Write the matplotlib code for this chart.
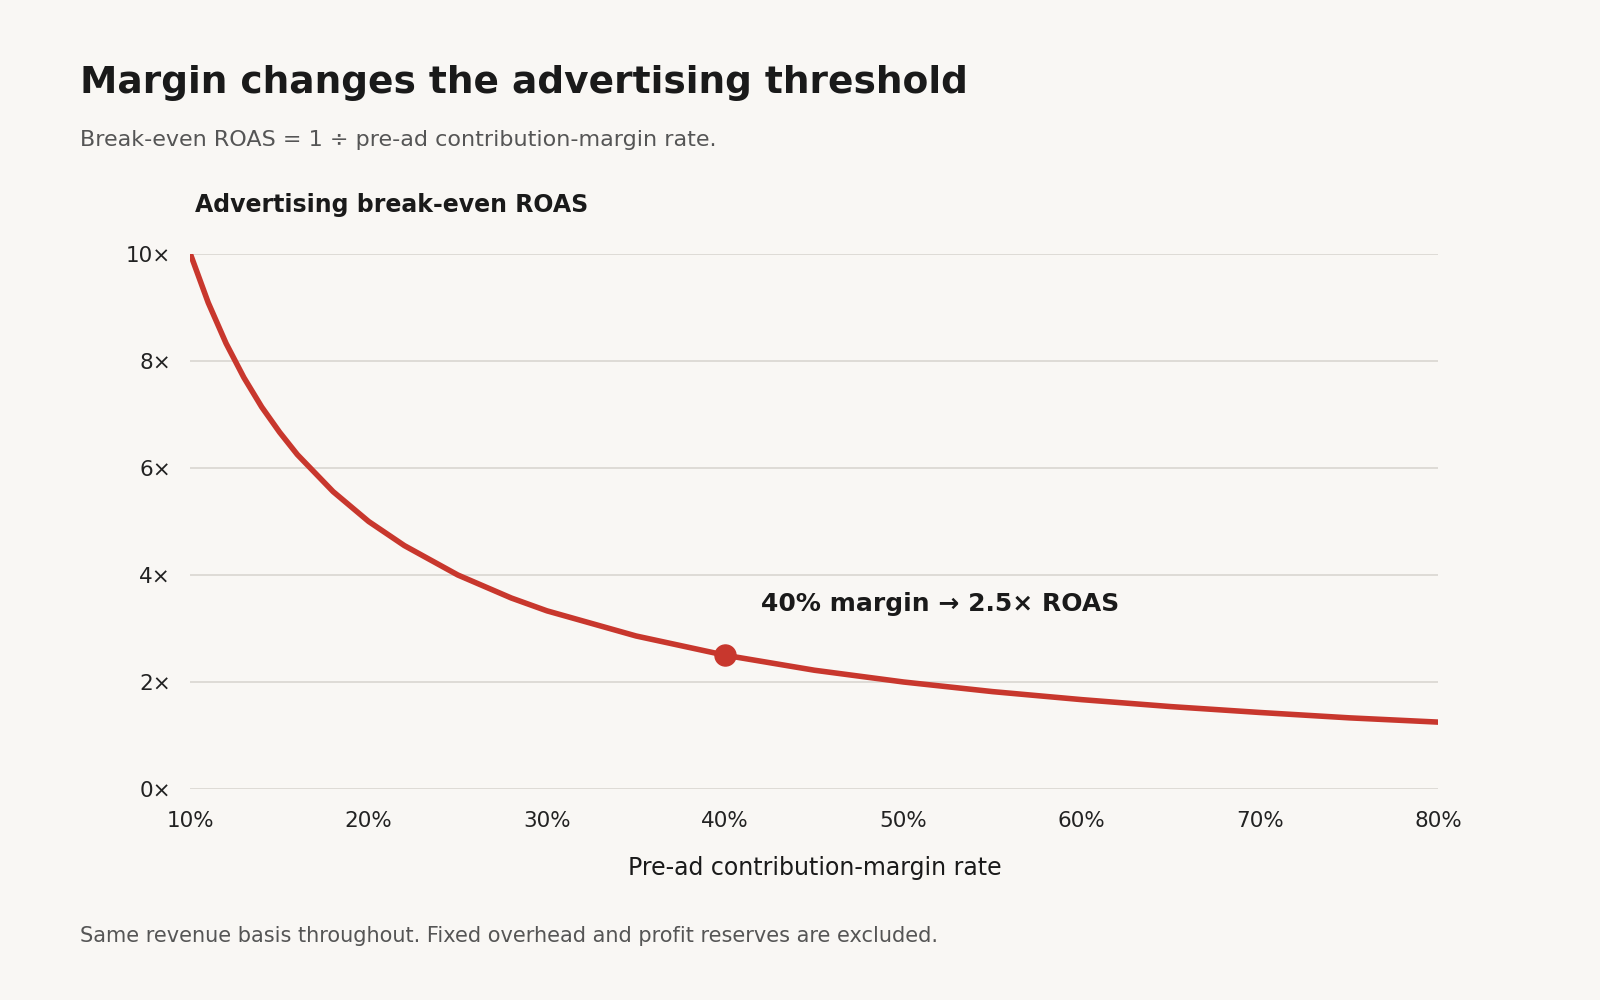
import matplotlib.pyplot as plt

# pre-ad contribution-margin rate (%) and break-even ROAS
margins = [10, 11, 12, 13, 14, 15, 16, 18, 20, 22, 25, 28, 30, 35, 40, 45, 50, 55, 60, 65, 70, 75, 80]
roas = [10.0, 9.09, 8.33, 7.69, 7.14, 6.67, 6.25, 5.56, 5.0, 4.55, 4.0, 3.57, 3.33,
        2.86, 2.5, 2.22, 2.0, 1.82, 1.67, 1.54, 1.43, 1.33, 1.25]
highlight_margin = 40
highlight_roas = 2.5
x_ticks = [10, 20, 30, 40, 50, 60, 70, 80]
y_ticks = [0, 2, 4, 6, 8, 10]

bg = '#f9f7f4'
red = '#c8372d'

fig = plt.figure(figsize=(16, 10), dpi=100, facecolor=bg)
ax = fig.add_axes([0.119, 0.211, 0.780, 0.535], facecolor=bg)

ax.plot(margins, roas, color=red, lw=4, solid_capstyle='round', zorder=3)
ax.scatter([highlight_margin], [highlight_roas], s=230, color=red, zorder=4)
ax.annotate(f'{highlight_margin}% margin \u2192 {highlight_roas}\u00d7 ROAS',
            (highlight_margin, highlight_roas), xytext=(26, 32), textcoords='offset points',
            fontsize=18, fontweight='bold', color='#1a1a1a')

ax.set_xlim(10, 80)
ax.set_ylim(0, 10)
ax.set_xticks(x_ticks)
ax.set_xticklabels([f'{t}%' for t in x_ticks], fontsize=15.5, color='#222')
ax.set_yticks(y_ticks)
ax.set_yticklabels([f'{t}\u00d7' for t in y_ticks], fontsize=15.5, color='#222')
ax.tick_params(length=0, pad=14)
ax.tick_params(axis='x', pad=16)
ax.grid(axis='y', color='#d9d6d0', lw=1.2)
ax.set_axisbelow(True)
for s in ax.spines.values():
    s.set_visible(False)
ax.set_xlabel('Pre-ad contribution-margin rate', fontsize=17, color='#1a1a1a', labelpad=18)

fig.text(0.050, 0.917, 'Margin changes the advertising threshold', fontsize=27,
         fontweight='bold', color='#1a1a1a', va='center')
fig.text(0.050, 0.860, 'Break-even ROAS = 1 \u00f7 pre-ad contribution-margin rate.',
         fontsize=16, color='#555', va='center')
fig.text(0.122, 0.795, 'Advertising break-even ROAS', fontsize=17, fontweight='bold',
         color='#1a1a1a', va='center')
fig.text(0.050, 0.064, 'Same revenue basis throughout. Fixed overhead and profit reserves are excluded.',
         fontsize=15, color='#555', va='center')

fig.savefig('out.png', dpi=100, facecolor=bg)
